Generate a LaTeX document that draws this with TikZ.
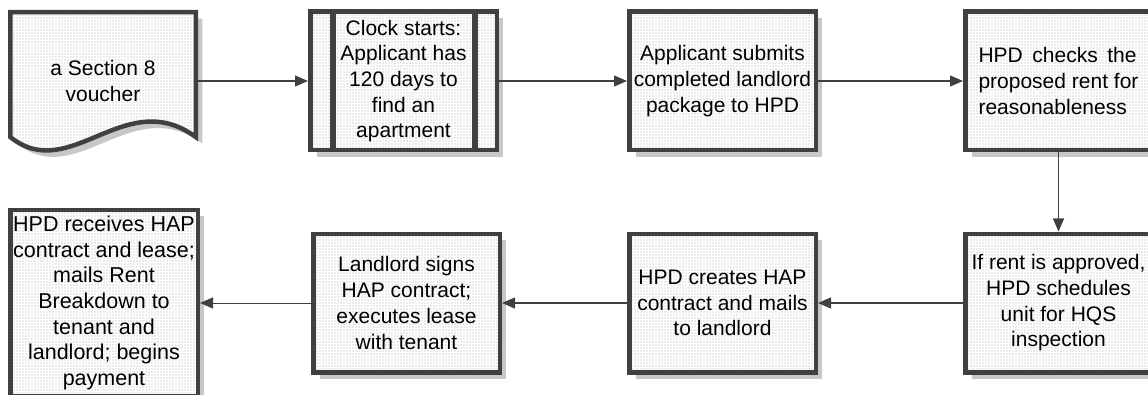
\documentclass[tikz,border=0pt]{standalone}
\usepackage{fontspec}
\setmainfont{Liberation Sans}
\usepackage{tikz}
\usetikzlibrary{backgrounds}
\usetikzlibrary{positioning, calc, arrows.meta, shadows, patterns}
\newcommand{\boxfont}{\fontsize{21pt}{25.7pt}\selectfont}
\tikzset{boxshadow/.style={drop shadow={shadow xshift=6.5pt, shadow yshift=-6.5pt, fill=black!22, opacity=1}}}
\tikzset{process/.style={rectangle, draw=black!75, line width=4.5pt, boxshadow, preaction={fill=black!8}, pattern=grid, pattern color=white,
    minimum width=186.5pt, minimum height=138.5pt, inner sep=0pt, align=center, font=\boxfont}}
\tikzset{docnode/.style={rectangle, line width=4.5pt, minimum width=185.5pt, minimum height=139pt, inner sep=0pt, align=center, font=\boxfont}}
\tikzset{docshape/.style={draw=black!75, line width=4.5pt, boxshadow, preaction={fill=black!8}, pattern=grid, pattern color=white}}
\tikzset{bar/.style={draw=black!75, line width=6.5pt}}
\tikzset{flow/.style={->, draw=black!75, line width=1.3pt}}
\usepackage{xcolor}

\begin{document}
\begin{tikzpicture}[x=1pt, y=1pt, >={Triangle[length=13pt, width=11pt]}]
      \useasboundingbox (0,0) rectangle (1148,394);

      \node[docnode] (voucher) at (103,313) {a Section 8\\voucher};
      \begin{scope}[on background layer]
        \path[docshape, shift={(voucher.center)}] (-92.75,68.75) -- (-92.75,-56)
          .. controls (-33,-104) and (22,-4) .. (92.75,-56) -- (92.75,68.75) -- cycle;
      \end{scope}

      \node[process, right=110pt of voucher] (clock) {Clock starts:\\Applicant has\\120 days to\\find an\\apartment};
      \draw[bar] ($(clock.north west)+(25,-2.25)$) -- ($(clock.south west)+(25,2.25)$);
      \draw[bar] ($(clock.north east)+(-24,-2.25)$) -- ($(clock.south east)+(-24,2.25)$);

      \node[process, right=128pt of clock] (submit) {Applicant submits\\completed landlord\\package to HPD};

      \node[process, right=145pt of submit, align=left] (check)
        {\makebox[158pt][s]{HPD checks the}\\proposed rent for\\reasonableness};

      \node[process, below=79pt of check] (approve) {If rent is approved,\\HPD schedules\\unit for HQS\\inspection};

      \node[process, left=145pt of approve] (create) {HPD creates HAP\\contract and mails\\to landlord};

      \node[process, left=125pt of create] (sign) {Landlord signs\\HAP contract;\\executes lease\\with tenant};

      \node[process, left=111pt of sign, minimum width=187.5pt, minimum height=186pt,
        font=\fontsize{21.5pt}{25.7pt}\selectfont] (receive)
        {HPD receives HAP\\contract and lease;\\mails Rent\\Breakdown to\\tenant and\\landlord; begins\\payment};

      % steps in order
      \draw[flow] (voucher) -- (clock);
      \draw[flow] (clock) -- (submit);
      \draw[flow] (submit) -- (check);
      \draw[flow] (check) -- (approve);
      \draw[flow] (approve) -- (create);
      \draw[flow] (create) -- (sign);
      \draw[flow, line width=1pt] (sign) -- (receive);
\end{tikzpicture}
\end{document}
